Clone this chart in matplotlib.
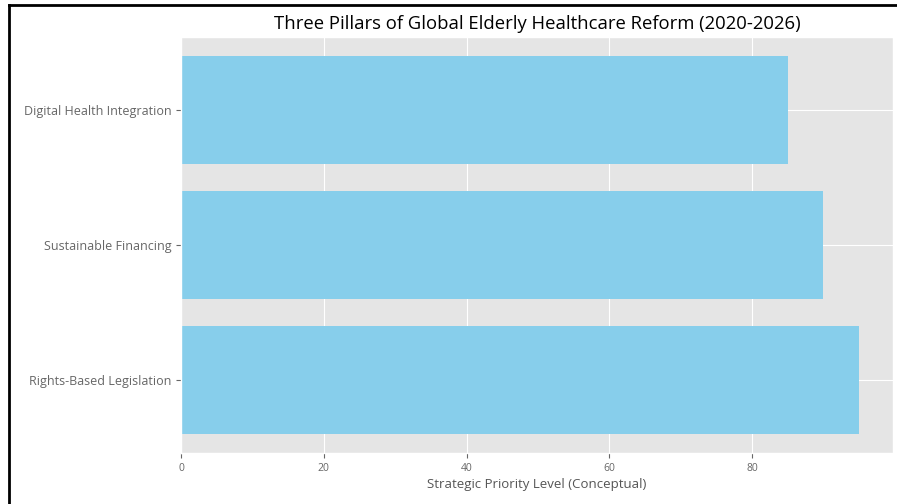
import matplotlib
matplotlib.use("Agg")
import matplotlib.pyplot as plt
from matplotlib.lines import Line2D

pillars = ['Rights-Based Legislation', 'Sustainable Financing', 'Digital Health Integration']
priority = [95, 90, 85]

plt.style.use('ggplot')
plt.rcParams['font.family'] = ['Open Sans', 'DejaVu Sans']

fig = plt.figure(figsize=(8.97, 5.04), dpi=100)
ax = fig.add_axes([181/897, 1-453/504, (893-181)/897, (453-37)/504])

ax.barh(pillars, priority, height=0.8, color='skyblue')
ax.set_xlabel('Strategic Priority Level (Conceptual)', fontsize=9.5, color='#555555', labelpad=3)
ax.set_title('Three Pillars of Global Elderly Healthcare Reform (2020-2026)', fontsize=13.3, color='black')
ax.tick_params(axis='y', labelsize=9, colors='#666666')
ax.tick_params(axis='x', labelsize=7.5, colors='#666666')

# screenshot frame on left/top
fig.add_artist(Line2D([9/897, 9/897], [0, 1-5/504], color='black', lw=2, transform=fig.transFigure))
fig.add_artist(Line2D([9/897, 1], [1-5/504, 1-5/504], color='black', lw=2, transform=fig.transFigure))

fig.savefig('out.png', dpi=100)
